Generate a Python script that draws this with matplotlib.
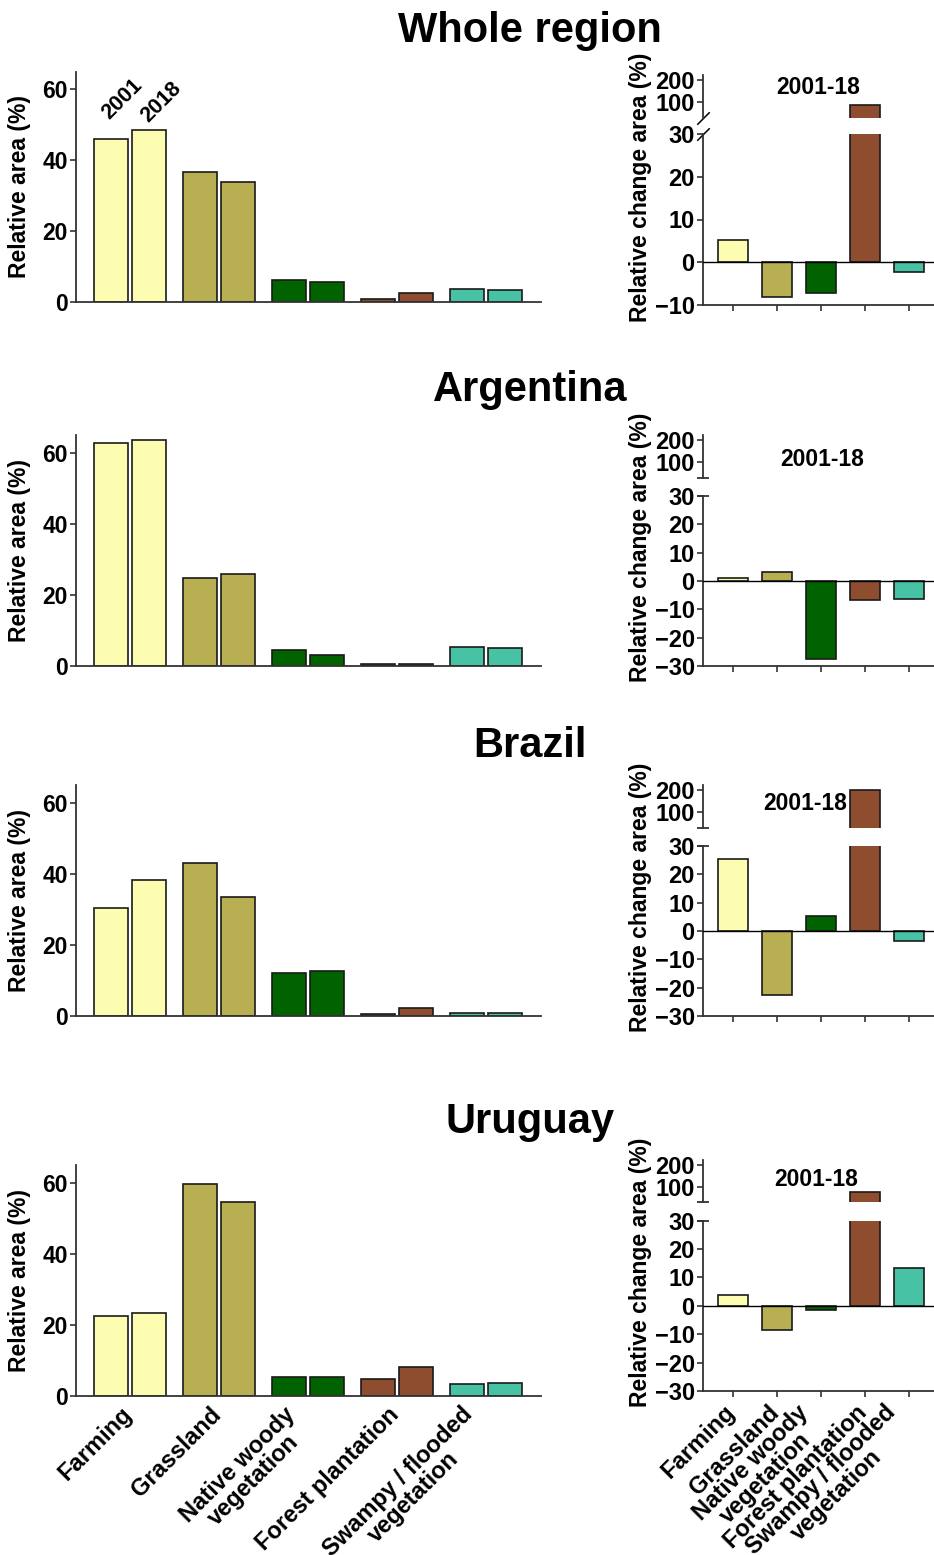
"""Land cover area and its relative change, 2001 vs 2018, by region."""

import matplotlib
matplotlib.use('Agg')
from matplotlib import pyplot
from matplotlib.transforms import ScaledTranslation
import numpy

# Land cover classes and their colours.
categories = ['Farming', 'Grassland', 'Native woody\nvegetation',
              'Forest plantation', 'Swampy / flooded\nvegetation']
colors = ['#fdfdb1', '#b8ae52', '#006300', '#8e4d2f', '#47c2a5']
regions = ['Whole region', 'Argentina', 'Brazil', 'Uruguay']

# Relative area (%) in 2001 and 2018.
whole_2001 = [46.1, 36.7, 6.3, 0.9, 3.8]
whole_2018 = [48.6, 33.9, 5.7, 2.4, 3.5]
argentina_2001 = [62.8, 24.7, 4.3, 0.4, 5.3]
argentina_2018 = [63.5, 25.7, 2.9, 0.4, 5.0]
brazil_2001 = [30.4, 43.1, 12.1, 0.6, 0.9]
brazil_2018 = [38.1, 33.5, 12.7, 2.1, 0.9]
uruguay_2001 = [22.5, 59.6, 5.3, 4.6, 3.2]
uruguay_2018 = [23.2, 54.6, 5.3, 8.2, 3.6]

# Relative change of area (%) between 2001 and 2018.
whole_change = [5.2, -8.1, -7.1, 86.0, -2.3]
argentina_change = [1.0, 3.2, -27.6, -6.8, -6.2]
brazil_change = [25.3, -22.5, 5.3, 198.0, -3.7]
uruguay_change = [3.7, -8.5, -1.3, 80.0, 13.5]

areas_2001 = [whole_2001, argentina_2001, brazil_2001, uruguay_2001]
areas_2018 = [whole_2018, argentina_2018, brazil_2018, uruguay_2018]
changes = [whole_change, argentina_change, brazil_change, uruguay_change]
change_lows = [-10, -30, -30, -30]

# Layout in pixels (figure is 934 x 1555 px).
W, H = 934.0, 1555.0
title_base = [42, 401, 757, 1133]
left_box = [(71.7, 302.0), (435.0, 665.7), (785.0, 1015.7), (1165.0, 1395.7)]
right_box = [(75.0, 117.5, 134.0, 305.0), (435.0, 477.7, 496.0, 666.0),
             (785.0, 827.7, 846.0, 1016.0), (1160.0, 1202.3, 1220.7, 1391.0)]
period_pos = [(818, 87), (822, 459), (805, 803), (816, 1179)]

pyplot.rcParams['font.family'] = ['Liberation Sans', 'DejaVu Sans']
pyplot.rcParams['font.weight'] = 'bold'
pyplot.rcParams['axes.labelweight'] = 'bold'
pyplot.rcParams['axes.edgecolor'] = '#333333'
pyplot.rcParams['axes.linewidth'] = 1.3
pyplot.rcParams['xtick.color'] = '#333333'
pyplot.rcParams['ytick.color'] = '#333333'
pyplot.rcParams['xtick.labelcolor'] = 'black'
pyplot.rcParams['ytick.labelcolor'] = 'black'

edge = dict(edgecolor='#1a1a1a', linewidth=1.2)
xlabel_kw = dict(rotation=45, ha='right', va='top', fontsize=17,
                 multialignment='center', linespacing=0.95)


def add_axes_px(fig, left, top, right, bottom):
    return fig.add_axes([left / W, 1 - bottom / H,
                         (right - left) / W, (bottom - top) / H])


def set_category_labels(fig, ax):
    """Rotated class names, nudged right a little like the original."""
    ax.set_xticklabels(categories, **xlabel_kw)
    shift = ScaledTranslation(7 / 100, 0, fig.dpi_scale_trans)
    for label in ax.get_xticklabels():
        label.set_transform(label.get_transform() + shift)


fig = pyplot.figure(figsize=(W / 100, H / 100), dpi=100)
x = numpy.arange(len(categories))

for i, region in enumerate(regions):
    last = i == len(regions) - 1
    fig.text(530 / W, 1 - title_base[i] / H, region, ha='center',
             va='baseline', fontsize=30)

    # Relative area per class, 2001 and 2018 side by side.
    top, bottom = left_box[i]
    ax = add_axes_px(fig, 76, top, 541, bottom)
    ax.bar(x - 0.21, areas_2001[i], width=0.38, color=colors, **edge)
    ax.bar(x + 0.21, areas_2018[i], width=0.38, color=colors, **edge)
    ax.set_xlim(-0.607, 4.618)
    ax.set_ylim(0, 65)
    ax.set_yticks([0, 20, 40, 60])
    ax.spines['top'].set_visible(False)
    ax.spines['right'].set_visible(False)
    ax.tick_params(axis='y', direction='out', length=4, width=1.2,
                   pad=2, labelsize=16.5)
    ax.tick_params(axis='x', length=0, pad=5)
    ax.set_xticks(x)
    if last:
        set_category_labels(fig, ax)
    else:
        ax.set_xticklabels([])
    ax.set_ylabel('Relative area (%)', fontsize=16.5)
    ax.yaxis.set_label_coords(-0.097, 0.5)
    if i == 0:
        ax.text(-0.23, 51.3, '2001', rotation=45, rotation_mode='anchor',
                ha='left', va='baseline', fontsize=15.5)
        ax.text(0.2, 50.4, '2018', rotation=45, rotation_mode='anchor',
                ha='left', va='baseline', fontsize=15.5)

    # Relative change with a broken y-axis.
    up_top, up_bot, lo_top, lo_bot = right_box[i]
    hi = add_axes_px(fig, 703, up_top, 934, up_bot)
    lo = add_axes_px(fig, 703, lo_top, 934, lo_bot)
    for a in (hi, lo):
        a.bar(x, changes[i], width=0.67, color=colors, **edge)
        a.set_xlim(-0.68, 4.57)
        a.spines['top'].set_visible(False)
        a.spines['right'].set_visible(False)
        a.tick_params(axis='y', direction='out', length=4, width=1.2,
                      pad=2, labelsize=17)
    hi.set_ylim(32, 222)
    hi.set_yticks([100, 200])
    hi.spines['bottom'].set_visible(False)
    hi.set_xticks([])
    lo.set_ylim(change_lows[i], 30)
    lo.set_yticks(numpy.arange(change_lows[i], 31, 10))
    lo.axhline(0, color='black', linewidth=1.0, zorder=3)
    lo.set_xticks(x)
    lo.tick_params(axis='x', direction='out', length=4, width=1.2, pad=3)
    if last:
        set_category_labels(fig, lo)
    else:
        lo.set_xticklabels([])

    # Break marks on the y-axis.
    if i == 0:
        kw = dict(marker=[(-1, -1), (1, 1)], markersize=9, linestyle='none',
                  color='black', mec='black', mew=1.1, clip_on=False)
    else:
        kw = dict(marker='_', markersize=9, linestyle='none',
                  color='black', mec='#333333', mew=1.3, clip_on=False)
    hi.plot([0], [0], transform=hi.transAxes, **kw)
    lo.plot([0], [1], transform=lo.transAxes, **kw)

    fig.text(640 / W, 1 - ((up_top + lo_bot) / 2 - 3) / H,
             'Relative change area (%)', rotation=90, ha='center',
             va='center', fontsize=16.5)
    px, py = period_pos[i]
    fig.text(px / W, 1 - py / H, '2001-18', ha='center', va='center',
             fontsize=16.5)

fig.savefig('out.png', dpi=100)
